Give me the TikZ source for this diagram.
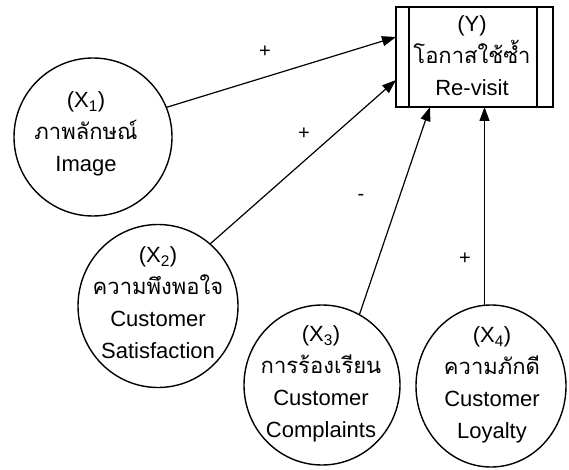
\documentclass[tikz,border=0pt]{standalone}
\usepackage{fontspec}
\setmainfont{Liberation Sans}
\newfontfamily\thaifam[Script=Thai]{Loma}
\newcommand{\thtxt}[1]{{\fontsize{22}{32}\selectfont\thaifam #1}}
\usetikzlibrary{shapes.geometric,arrows.meta,calc}
\tikzset{
  var/.style={ellipse, draw, line width=1.4pt, inner sep=0pt, outer sep=0pt},
  lbl/.style={align=center, inner sep=0pt, font=\fontsize{22}{32}\selectfont},
  conn/.style={line width=1.2pt, -{Triangle[length=14pt,width=10pt]}},
  sign/.style={inner sep=0pt, font=\fontsize{20}{20}\selectfont}
}
\begin{document}
\begin{tikzpicture}[x=1pt,y=-1pt]
\useasboundingbox (0,0) rectangle (569,470);
% target box
\node[draw, line width=1.4pt, minimum width=157pt, minimum height=100pt, inner sep=0pt, outer sep=0pt] (Y) at (474.5,57) {};
\draw[line width=1.4pt] ([xshift=13pt]Y.north west) -- ([xshift=13pt]Y.south west);
\draw[line width=1.4pt] ([xshift=-16pt]Y.north east) -- ([xshift=-16pt]Y.south east);
\node[lbl] (Yt) at (472,56) {(Y)\\\thtxt{โอกาสใช้ซ้ำ}\\Re-visit};
% variables
\node[var, minimum width=158pt, minimum height=158pt] (X1) at (93,137) {};
\node[lbl] (X1t) at (86,134) {(X\textsubscript{1})\\\thtxt{ภาพลักษณ์}\\Image};
\node[var, minimum width=160pt, minimum height=163pt] (X2) at (158,306) {};
\node[lbl] (X2t) at (158,303) {(X\textsubscript{2})\\\thtxt{ความพึงพอใจ}\\Customer\\Satisfaction};
\node[var, minimum width=156pt, minimum height=160pt] (X3) at (322,385) {};
\node[lbl] (X3t) at (321,384) {(X\textsubscript{3})\\\thtxt{การร้องเรียน}\\Customer\\Complaints};
\node[var, minimum width=150pt, minimum height=162pt] (X4) at (491,386) {};
\node[lbl] (X4t) at (492,385) {(X\textsubscript{4})\\\thtxt{ความภักดี}\\Customer\\Loyalty};
% arrow ends on the box
\coordinate (t1) at ($(Y.north west)+(0,30)$);
\coordinate (t2) at ($(Y.north west)+(0,73)$);
\coordinate (t3) at ($(Y.south west)+(34,0)$);
\coordinate (t4) at ($(Y.south west)+(88.5,0)$);
\draw[conn] (X1.22) -- (t1);
\draw[conn] (X2.50) -- (t2);
\draw[conn] (X3.62) -- (t3);
\draw[conn] (X4.north -| t4) -- (t4);
% signs
\node[sign] (s1) at (265,52) {+};
\node[sign] (s2) at (304,134) {+};
\node[sign] (s3) at (361,197) {-};
\node[sign] (s4) at (465,259) {+};
\end{tikzpicture}
\end{document}
